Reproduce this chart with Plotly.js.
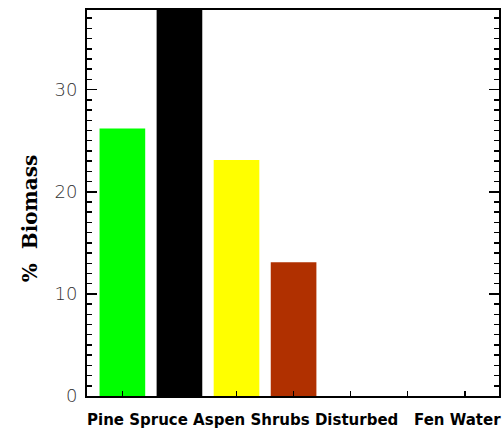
<!DOCTYPE html>
<html>
<head>
<meta charset="utf-8">
<script src="https://cdn.plot.ly/plotly-3.0.1.min.js"></script>
<style>html,body{margin:0;padding:0;background:#fff;}#chart{width:503px;height:433px;}</style>
</head>
<body>
<div id="chart"></div>
<script>
var categories = ["Pine", "Spruce", "Aspen", "Shrubs", "Disturbed", "Fen", "Water"];
var biomass = [26.2, 40, 23.1, 13.1, 0, 0, 0];
var barColors = ["#00ff00", "#000000", "#ffff00", "#b03000", "#ffffff", "#ffffff", "#ffffff"];
var yTickVals = [0, 10, 20, 30];
var yTickText = ["0", "10", "20", "30"];
var yTitle = "%  Biomass";

var trace = {
  type: "bar",
  x: categories,
  y: biomass,
  marker: {color: barColors, line: {width: 0}},
  width: 0.8,
  hoverinfo: "none"
};

var layout = {
  width: 503, height: 433,
  margin: {l: 87, r: 4, t: 10, b: 37, pad: 0},
  paper_bgcolor: "#ffffff",
  plot_bgcolor: "#ffffff",
  showlegend: false,
  xaxis: {
    type: "category",
    range: [-0.62, 6.6],
    showgrid: false,
    zeroline: false,
    showline: true, linecolor: "#000", linewidth: 2,
    mirror: true,
    ticks: "inside", ticklen: 5, tickwidth: 1.5, tickcolor: "#000",
    showticklabels: false
  },
  yaxis: {
    range: [0, 37.8],
    showgrid: false,
    zeroline: false,
    showline: true, linecolor: "#000", linewidth: 2,
    mirror: "ticks",
    ticks: "inside", ticklen: 10, tickwidth: 1.5, tickcolor: "#000",
    tickvals: yTickVals, ticktext: yTickText,
    tickfont: {family: "DejaVu Sans", size: 18, color: "#333", weight: 300},
    ticklabelstandoff: 4,
    minor: {dtick: 1, ticks: "inside", ticklen: 5, tickwidth: 1.5, tickcolor: "#000"}
  },
  annotations: [{
    xref: "paper", yref: "paper",
    x: -0.005, y: -0.062,
    xanchor: "left", yanchor: "middle",
    showarrow: false,
    text: categories.slice(0, 5).join(" ") + "\u00a0\u00a0\u00a0" + categories.slice(5).join(" "),
    font: {family: "DejaVu Sans", size: 15, color: "#000", weight: "bold"}
  }, {
    xref: "paper", yref: "paper",
    x: -0.138, y: 0.4585,
    xanchor: "center", yanchor: "middle",
    textangle: -90,
    showarrow: false,
    text: yTitle,
    font: {family: "DejaVu Serif", size: 20, color: "#000", weight: "bold"}
  }]
};

Plotly.newPlot("chart", [trace], layout, {staticPlot: true, displayModeBar: false});
</script>
</body>
</html>
